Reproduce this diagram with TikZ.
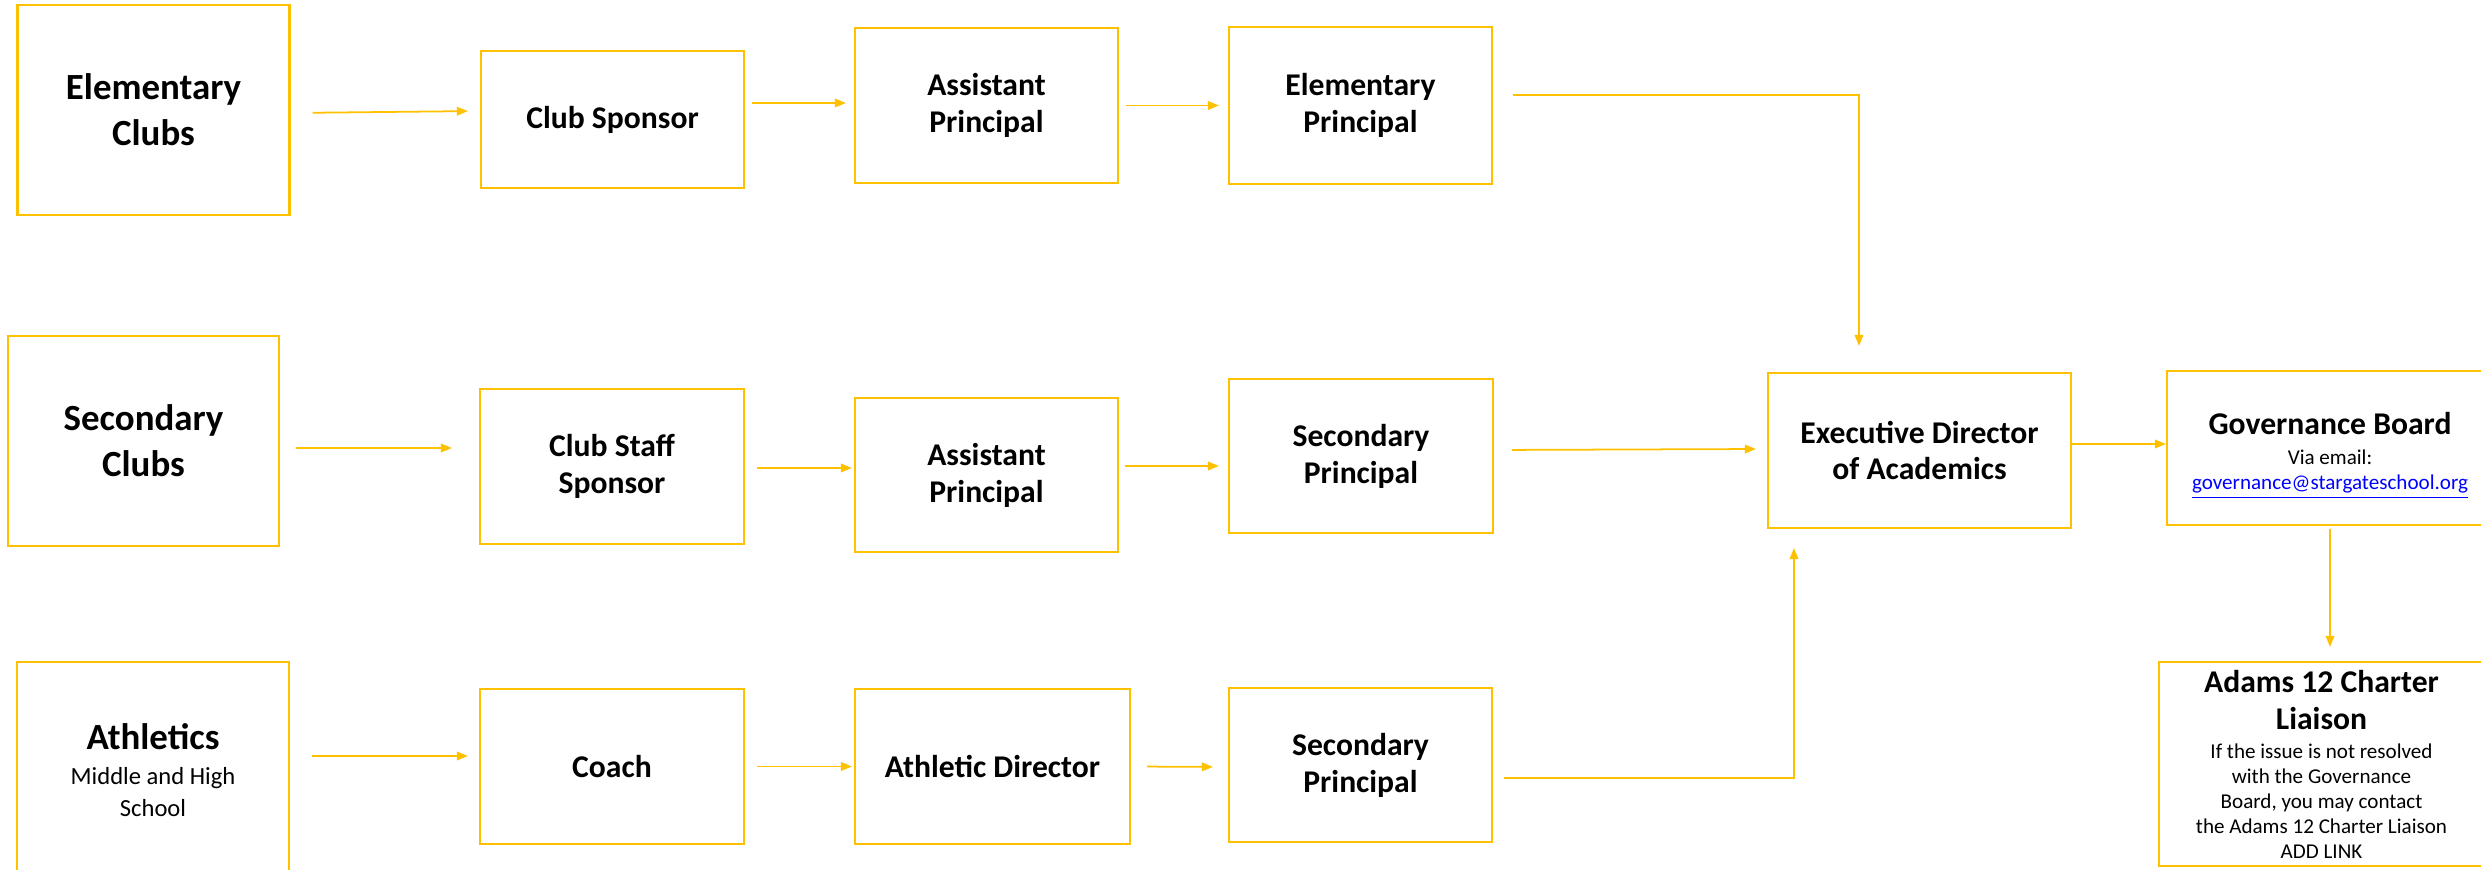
\documentclass[tikz,border=0pt]{standalone}
\usepackage{fontspec}
\setmainfont{Carlito}
\usepackage{tikz}
\usetikzlibrary{arrows.meta}
\definecolor{box_gold}{RGB}{255,192,0}
\definecolor{link_blue}{RGB}{0,0,255}

\begin{document}
\begin{tikzpicture}[->,line width=0.5pt,draw=box_gold,>={Triangle[length=1.1mm,width=0.85mm]}]
    \tikzstyle{box}=[draw=box_gold, line width=0.6pt, rectangle, inner sep=0pt, align=center, text=black]
    \tikzstyle{src}=[style=box, font=\fontsize{10.5}{13}\selectfont\bfseries, minimum width=2.72cm, minimum height=2.10cm]
    \tikzstyle{stage}=[style=box, font=\fontsize{9}{10.5}\selectfont\bfseries, minimum width=2.63cm, minimum height=1.55cm]
    \tikzstyle{note}=[style=box, font=\fontsize{6}{7.1}\selectfont, minimum width=3.26cm, minimum height=1.54cm]

    \useasboundingbox (0,0) rectangle (24.81,-8.70);

    % elementary row
    \node[src]   (ec)  at (1.535,-1.10)  {Elementary\\Clubs};
    \node[stage, minimum height=1.37cm] (cs) at (6.125,-1.195) {Club Sponsor};
    \node[stage] (ap1) at (9.865,-1.055) {Assistant\\Principal};
    \node[stage, minimum height=1.57cm] (ep) at (13.605,-1.055) {Elementary\\Principal};

    % secondary row
    \node[src, minimum width=2.71cm] (sc) at (1.435,-4.41) {Secondary\\Clubs};
    \node[stage, minimum width=2.64cm] (css) at (6.12,-4.665) {Club Staff\\Sponsor};
    \node[stage, minimum height=1.54cm] (ap2) at (9.865,-4.75) {Assistant\\Principal};
    \node[stage, minimum width=2.64cm, minimum height=1.54cm] (sp2) at (13.61,-4.56) {Secondary\\Principal};

    % athletics row
    \node[src, minimum height=2.16cm, font=\fontsize{7}{9}\selectfont] (ath) at (1.53,-7.70)
        {{\fontsize{10.5}{13}\selectfont\bfseries Athletics}\\[1.2pt]Middle and High\\School};
    \node[stage, minimum width=2.64cm] (coach) at (6.12,-7.665) {Coach};
    \node[stage, minimum width=2.75cm] (ad) at (9.925,-7.665) {Athletic Director};
    \node[stage, minimum height=1.54cm] (sp3) at (13.605,-7.65) {Secondary\\Principal};

    % right side
    \node[stage, minimum width=3.03cm] (ex) at (19.195,-4.505) {Executive Director\\of Academics};
    \node[note] (gov) at (23.30,-4.48)
        {\rule{0pt}{11pt}{\fontsize{9}{10.5}\selectfont\bfseries Governance Board}\\[1.2pt]Via email:\\
         \textcolor{link_blue}{\underline{governance@stargateschool.org}}};
    \node[note, minimum width=3.25cm, minimum height=2.04cm] (adams) at (23.215,-7.64)
        {{\fontsize{9}{10.5}\selectfont\bfseries Adams 12 Charter}\\[3.4pt]
         {\fontsize{9}{10.5}\selectfont\bfseries Liaison}\\[1.2pt]
         If the issue is not resolved\\with the Governance\\Board, you may contact\\
         the Adams 12 Charter Liaison\\ADD LINK};

    \path
     ([yshift=-0.03cm]ec.east)   edge[shorten <=2.2mm, shorten >=1.2mm] ([yshift=0.085cm]cs.west)
     ([yshift=0.165cm]cs.east)   edge[shorten <=0.7mm, shorten >=0.8mm] ([yshift=0.025cm]ap1.west)
     (ap1.east)                  edge[shorten <=0.7mm, shorten >=0.9mm] (ep.west)
     ([yshift=-0.07cm]sc.east)   edge[shorten <=1.6mm, shorten >=2.7mm] ([yshift=0.185cm]css.west)
     ([yshift=-0.015cm]css.east) edge[shorten <=1.2mm, shorten >=0.2mm] ([yshift=0.07cm]ap2.west)
     ([yshift=0.09cm]ap2.east)   edge[shorten <=0.6mm, shorten >=0.9mm] ([yshift=-0.1cm]sp2.west)
     ([yshift=0.06cm]sp2.east)   edge[shorten <=1.8mm, shorten >=1.1mm] ([yshift=0.015cm]ex.west)
     ([yshift=0.14cm]ath.east)   edge[shorten <=2.2mm, shorten >=1.1mm] ([yshift=0.105cm]coach.west)
     (coach.east)                edge[shorten <=1.2mm, shorten >=0.2mm] (ad.west)
     (ad.east)                   edge[shorten <=1.6mm, shorten >=1.5mm] ([yshift=-0.02cm]sp3.west)
     ([yshift=0.065cm]ex.east)   edge ([yshift=0.04cm]gov.west)
     (gov.south)                 edge[shorten <=0.3mm, shorten >=1.4mm] ([xshift=0.085cm]adams.north)
     ;
    \draw[shorten <=2mm, shorten >=2.6mm] ([yshift=0.105cm]ep.east) -| ([xshift=-0.605cm]ex.north);
    \draw[shorten <=1.1mm, shorten >=1.9mm] ([yshift=-0.13cm]sp3.east) -| ([xshift=-1.255cm]ex.south);
\end{tikzpicture}
\end{document}
